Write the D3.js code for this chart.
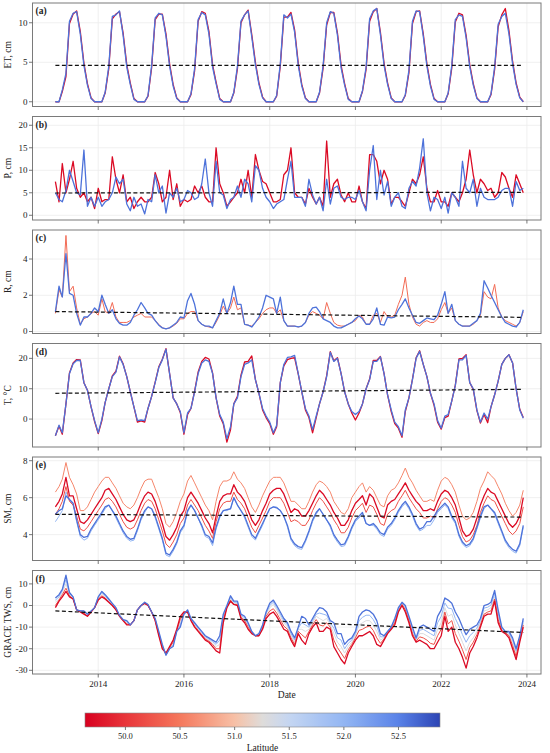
<!DOCTYPE html>
<html>
<head>
<meta charset="utf-8">
<script src="https://cdnjs.cloudflare.com/ajax/libs/d3/7.8.5/d3.min.js"></script>
<style>
  body { margin: 0; background: #fff; }
  svg { display: block; }
  text { font-family: "Liberation Serif", "DejaVu Serif", serif; fill: #222; }
</style>
</head>
<body>
<svg id="chart" width="550" height="753"></svg>
<script>
// monthly series, Jan 2013 .. Dec 2023
const months = d3.range(132).map(i => new Date(Date.UTC(2013, i, 1)));

// latitudes of the drawn grid rows
const latRed = 49.7, latPink = 50.2, latSalmon = 50.6, latMid = 51.3, latLight = 52.0, latBlue = 52.6;

// (a) evapotranspiration, cm
const etRed = [
  0,0,1.3,3.2,9.9,11.1,11.5,8.9,4.9,2.3,0.5,0,
  0,0,1.1,4.2,10.5,11.1,11.4,8.7,4.7,2.4,0.4,0,
  0,0,0.7,4.3,10.4,11.1,11.1,8.6,4.8,2.2,0.5,0,
  0,0,0.9,3.9,10.2,11.4,11.2,8.9,4.7,2.5,0.4,0,
  0,0,1.1,4.2,10.0,11.0,11.6,8.5,5.0,2.4,0.6,0,
  0,0,0.7,4.5,10.7,10.7,11.3,9.1,4.9,2.2,0.5,0,
  0,0,1.1,4.3,9.7,11.3,11.3,8.7,4.6,2.3,0.4,0,
  0,0,1.3,4.1,10.2,11.4,11.8,8.8,4.9,2.4,0.5,0,
  0,0,0.8,3.7,9.9,11.4,11.5,8.6,4.8,2.2,0.4,0,
  0,0,1.0,4.3,10.1,11.2,11.0,8.4,4.7,2.3,0.5,0,
  0,0,0.9,4.1,9.5,11.0,11.8,9.0,5.1,2.4,0.6,0
];
const etBlue = [
  0,0,1.5,3.6,10.2,11.2,11.4,8.6,4.6,2.1,0.4,0,
  0,0,1.2,4.5,10.8,11.0,11.5,8.4,4.4,2.2,0.3,0,
  0,0,0.8,4.6,10.6,11.2,11.0,8.3,4.5,2.0,0.4,0,
  0,0,1.0,4.2,10.4,11.3,11.0,8.6,4.4,2.3,0.3,0,
  0,0,1.2,4.5,10.2,11.0,11.5,8.2,4.7,2.2,0.5,0,
  0,0,0.8,4.8,11.0,10.6,11.1,8.8,4.6,2.0,0.4,0,
  0,0,1.2,4.6,10.0,11.4,11.2,8.4,4.3,2.1,0.3,0,
  0,0,1.4,4.4,10.5,11.5,11.8,8.5,4.6,2.2,0.4,0,
  0,0,0.9,4.0,10.2,11.5,11.4,8.3,4.5,2.0,0.3,0,
  0,0,1.1,4.6,10.4,11.0,10.8,8.1,4.4,2.1,0.4,0,
  0,0,1.0,4.4,9.8,10.8,11.2,8.6,4.8,2.2,0.5,0
];

// (b) precipitation, cm
const pRed = [
  7.5,3,11.5,5,8,12,6,4,5,3,4,1.5,
  6,3,3.5,3.5,13,8,5,9,3,4,1.5,3,
  4,3,3,4,9.5,7,3,4,10,3.5,7,2,
  3.5,3,3.5,6.5,5,6.5,4,3,3,15,7,5,
  2,3,4,5,8,5,10,4,13.5,10,7.5,7,
  5,3,3,3.5,9,10,15,5,4,4,2.5,6,
  4,2.5,4,2,16.5,4,7,8,4.5,3,5,3,
  3,6.5,3,1.5,13.5,13.5,12,7,10,8,2.5,4,
  4,3,2,5,8,7,9,13,6,3,3,5.5,
  3,3,2,5,4,3,5,8,14.5,9,5,8,
  7,5.5,6,4,5,9.5,8.5,6,4,9,7,5
];
const pBlue = [
  5,3.5,3,5.5,10,7.5,5,4.5,14.5,2,4,2,
  4,2,3,3.5,5,8.5,7,8,2.5,1,4,2,
  2.5,0.3,3.5,3,9,5,6.5,0.5,5,4,6,3,
  3.5,5.5,5,3.5,4,7,12.5,5,2,12,5,4.5,
  1.5,3.5,4,6.5,4,8,7,3,11,10,6,4,
  3,1.5,2.5,3,3.5,8,12,4,4,4,2,8,
  4.5,2.5,4,1,8,2.5,6,6.5,4,3.5,4,4,
  3.5,5.5,3,1,10,15.5,3.5,10,4.5,7.5,2,4,
  5,2,1.5,6,7.5,6.5,10.5,17,5,1,4,3.5,
  1.5,4,0.5,5,4,2,12,6,5,8,2,6,
  4,3.5,3.5,3.5,4,5.5,6,6,2,7.5,5.5,6
];

// (c) runoff, cm
const rRed = [
  1.0,2.3,1.9,5.3,2.2,2.5,1.3,0.4,0.7,0.8,1.0,1.1,
  0.9,1.8,1.1,1.0,1.6,0.8,0.5,0.5,0.5,0.6,0.8,0.9,
  1.0,0.8,0.8,0.8,0.6,0.4,0.2,0.15,0.2,0.3,0.45,0.7,
  0.7,1.0,1.1,1.1,0.6,0.4,0.3,0.25,0.2,0.5,0.9,1.4,
  1.0,1.3,1.9,1.2,1.3,0.4,0.35,0.3,0.5,0.7,1.0,1.2,
  1.3,1.3,1.0,1.2,0.6,0.3,0.3,0.3,0.25,0.3,0.5,0.9,
  1.1,1.0,0.9,0.7,1.6,1.0,0.5,0.35,0.3,0.3,0.4,0.5,
  0.6,0.9,0.8,0.4,0.4,0.9,1.0,0.5,1.1,0.8,0.8,0.9,
  1.5,2.0,3.0,1.5,0.8,0.4,0.3,0.5,0.6,0.5,0.5,0.7,
  1.2,1.6,1.0,1.3,0.6,0.4,0.3,0.3,0.3,0.4,0.6,0.9,
  2.2,1.9,1.8,2.6,1.3,0.8,0.6,0.5,0.4,0.3,0.5,1.1
];
const rBlue = [
  1.1,2.5,1.9,4.3,2.1,2.0,1.0,0.35,0.8,0.8,1.0,1.3,
  1.1,2.0,1.5,1.0,1.2,0.7,0.45,0.35,0.35,0.5,0.9,1.2,
  1.6,1.3,1.0,0.9,0.6,0.35,0.2,0.15,0.2,0.35,0.5,0.8,
  0.75,1.7,2.1,1.5,0.6,0.4,0.3,0.3,0.2,0.6,1.0,1.8,
  1.0,1.6,2.5,1.5,1.5,0.4,0.35,0.25,0.5,0.8,1.3,2.0,
  1.9,1.8,1.0,1.9,0.6,0.3,0.3,0.3,0.25,0.3,0.5,1.0,
  1.3,1.35,1.1,0.7,0.6,0.5,0.3,0.2,0.2,0.3,0.4,0.5,
  0.7,0.85,0.7,0.4,0.4,0.7,1.3,0.4,0.35,0.8,0.75,0.8,
  1.2,1.5,1.8,1.3,0.9,0.5,0.45,0.6,0.75,0.7,0.65,0.9,
  1.5,2.2,1.0,1.5,0.6,0.4,0.3,0.3,0.3,0.45,0.6,1.0,
  2.8,2.4,2.0,1.6,1.2,0.8,0.5,0.4,0.3,0.25,0.5,1.2
];

// (d) air temperature, °C
const tRed = [
  -5.5,-2.3,-5,5,15.2,18.5,19.6,19.5,12,9.5,4,-0.8,
  -4.8,-0.5,5.5,10,14.2,15.8,20.7,18.2,14,9,4,-1,
  -0.6,-1,3.5,7.5,12.2,17.2,19.7,23.2,15,7,5,2.2,
  -5,1.5,3.5,9.2,15.5,19,20.3,19.8,15.2,7,1,-1.5,
  -7.6,-3.5,5,7.5,14.5,18.8,19,20.8,13,8.5,3,0.5,
  -1.5,-5,-2.5,12,17.5,19.6,20,20.2,14.8,9,3,0.5,
  -4.5,0.5,5,9,14.3,22.2,19.2,20.2,15,9,5,2,
  -0.3,2,5,10,13.2,19.3,19.3,20.6,15,8,2.5,-1.5,
  -3,-6,2.5,7,13.2,20.2,22.5,18,14,8.5,4.5,-1,
  -3.3,0.5,1,6,11.2,19.8,20,21.2,12,9.8,2.8,-1.3,
  1.5,-1.2,4,8,12.5,18,20,21.2,18.5,10,3.2,0.5
];
const tBlue = [
  -5.5,-2,-4.5,5,15,18.2,19.3,19.3,12,9.5,4,-0.5,
  -4.5,0,5.5,10,14,15.5,20.5,18,14,9,4,-0.5,
  -0.3,-0.5,3.5,7.5,12,17,19.5,23,15,7,5,2.5,
  -4.5,2,3.5,9,15,18.5,19.5,19,15,7,1.5,-1,
  -6.5,-2.5,5,7,14,18,18.5,19.5,13,8.5,3.5,1,
  -1,-4.5,-2,12,18,20.3,20.5,21,15,9,3.5,1,
  -3.5,1,5,9,14,22,19,20,15,9,5,2.5,
  1.5,2.5,5,10,13,19,19,20.5,15,8,3,-1,
  -2.5,-5.5,3,7,13,20,22.3,18,14,8.5,5,-0.5,
  -3,1,1.5,6,11,19.5,19.5,21,12,10,3,-1,
  2,0,4,8,12.5,18,20,21.2,18.5,10,3,0.3
];

// (e) soil moisture, cm
const smRed = [
  5.5,5.8,6.2,7.1,6.1,6.1,5.4,4.7,4.6,4.8,5.1,5.4,
  5.7,6.0,6.4,6.5,6.2,5.9,5.5,5.1,4.8,4.7,4.8,5.2,
  5.7,6.1,6.3,6.2,5.8,5.2,4.6,3.9,3.7,4.0,4.4,5.0,
  5.3,6.0,6.3,6.0,5.7,5.3,4.9,4.6,4.1,5.0,5.8,6.1,
  6.2,6.2,6.7,6.3,6.1,5.8,5.3,4.8,4.5,4.8,5.3,5.7,
  6.2,6.4,6.5,6.5,6.2,5.7,5.2,5.4,5.3,5.0,5.0,5.3,
  5.7,6.1,6.4,6.2,5.9,5.6,5.2,4.9,4.5,4.5,4.8,5.3,
  5.7,5.9,6.1,5.6,6.2,6.0,5.5,5.0,4.9,5.6,5.8,5.9,
  6.2,6.5,6.8,6.4,6.1,5.8,5.6,5.3,5.3,5.4,5.3,5.8,
  6.2,6.4,6.3,6.0,5.6,4.9,4.2,3.9,4.0,4.3,4.9,5.6,
  6.1,6.5,6.3,6.2,5.8,5.4,5.0,4.6,4.4,4.6,5.0,6.0
];
const smPink = [
  5.1,5.4,5.8,6.6,5.8,5.6,5.0,4.3,4.2,4.4,4.7,5.0,
  5.3,5.6,5.9,6.0,5.8,5.5,5.1,4.7,4.4,4.3,4.4,4.8,
  5.3,5.7,5.9,5.8,5.4,4.8,4.2,3.5,3.3,3.6,4.0,4.6,
  4.9,5.6,5.9,5.6,5.3,4.9,4.5,4.2,3.8,4.7,5.4,5.7,
  5.8,5.8,6.3,5.9,5.7,5.4,4.9,4.4,4.1,4.5,4.9,5.3,
  5.8,6.0,6.0,6.0,5.7,5.2,4.7,4.8,4.7,4.5,4.5,4.8,
  5.3,5.7,6.0,5.8,5.5,5.2,4.8,4.5,4.1,4.1,4.4,4.9,
  5.3,5.5,5.7,5.2,5.6,5.5,5.1,4.6,4.5,5.1,5.3,5.4,
  5.8,6.1,6.4,6.0,5.7,5.4,5.2,4.9,4.9,5.0,4.9,5.4,
  5.8,6.0,5.9,5.6,5.2,4.5,3.9,3.6,3.7,4.0,4.5,5.2,
  5.7,6.1,5.9,5.8,5.4,5.0,4.6,4.2,4.0,4.2,4.6,5.5
];
const smSalmon = [
  6.3,6.6,7.0,7.9,7.1,6.7,6.2,5.3,5.3,5.5,5.9,6.3,
  6.6,6.9,7.1,7.1,6.8,6.5,6.1,5.7,5.5,5.4,5.6,6.0,
  6.5,6.9,7.0,7.0,6.5,6.0,5.4,4.6,4.4,4.7,5.2,5.8,
  6.2,6.9,7.2,6.8,6.4,6.0,5.6,5.3,4.8,5.8,6.6,6.9,
  6.9,7.0,7.4,7.0,6.8,6.5,6.0,5.5,5.2,5.6,6.1,6.5,
  6.9,7.1,7.1,7.1,6.8,6.3,5.8,5.8,5.6,5.4,5.4,5.8,
  6.3,6.7,6.9,6.8,6.6,6.3,5.8,5.5,5.2,5.1,5.4,6.0,
  6.3,6.6,6.8,6.3,6.6,6.4,6.0,5.6,5.5,6.1,6.4,6.5,
  6.8,7.2,7.6,7.1,6.8,6.4,6.1,5.8,5.8,5.9,5.8,6.4,
  6.9,7.1,7.0,6.7,6.3,5.6,5.0,4.8,4.9,5.2,5.8,6.5,
  6.9,7.4,7.2,7.0,6.6,6.2,5.7,5.3,5.0,5.2,5.6,6.4
];
const smLight = [
  4.7,5.0,5.3,6.3,5.9,5.6,4.7,3.9,3.7,3.8,4.2,4.5,
  4.8,5.1,5.4,5.6,5.3,4.9,4.5,4.1,3.8,3.65,3.7,4.2,
  4.8,5.2,5.5,5.4,4.9,4.3,3.7,2.9,2.8,3.1,3.5,4.1,
  4.4,5.2,5.6,5.3,4.9,4.4,3.9,3.8,3.4,4.3,4.9,5.3,
  5.3,5.4,6.0,5.6,5.3,4.9,4.4,3.9,3.7,4.1,4.5,5.0,
  5.4,5.5,5.5,5.3,5.0,4.4,3.7,3.4,3.25,3.2,3.6,4.1,
  4.7,5.1,5.4,5.1,4.8,4.4,3.9,3.6,3.35,3.4,3.8,4.3,
  4.7,4.9,5.1,4.6,4.5,4.5,4.3,4.0,3.9,4.3,4.5,4.8,
  5.2,5.5,5.7,5.4,5.0,4.5,4.2,4.3,4.5,4.5,4.8,5.2,
  5.4,5.6,5.4,4.9,4.6,3.9,3.5,3.3,3.4,3.7,4.3,4.9,
  5.4,5.6,5.4,5.1,4.6,4.1,3.6,3.3,3.1,3.0,3.4,4.4
];
const smBlue = [
  5.1,5.3,5.4,6.1,5.9,5.7,4.8,4.0,3.85,3.9,4.3,4.6,
  4.9,5.2,5.5,5.6,5.3,5.0,4.6,4.2,3.9,3.75,3.8,4.3,
  4.9,5.3,5.5,5.4,5.0,4.4,3.8,3.0,2.9,3.2,3.6,4.2,
  4.5,5.3,5.6,5.3,4.9,4.5,4.0,3.9,3.55,4.4,5.0,5.3,
  5.35,5.4,6.0,5.6,5.3,5.0,4.5,4.0,3.8,4.2,4.6,5.0,
  5.4,5.5,5.45,5.3,5.0,4.5,3.8,3.5,3.35,3.3,3.7,4.2,
  4.8,5.2,5.4,5.1,4.8,4.5,4.0,3.7,3.45,3.5,3.9,4.4,
  4.8,5.0,5.2,4.6,4.5,4.6,4.4,4.1,4.0,4.4,4.6,4.9,
  5.3,5.6,5.8,5.5,5.1,4.6,4.3,4.4,4.7,4.7,5.0,5.3,
  5.5,5.7,5.5,5.0,4.7,4.0,3.6,3.4,3.5,3.8,4.4,5.0,
  5.5,5.6,5.4,5.2,4.7,4.2,3.7,3.4,3.2,3.1,3.5,4.5
];

// (f) GRACE terrestrial water storage anomaly, cm
const twsRed = [
  -1,2,4,6.5,4,3,-2,-3,-4,-5,-3,-1,
  2.5,4,3,1.5,0,-2,-5,-7,-9,-9,-7,-2,
  0,1,0,-3,-7,-14,-20,-22,-19,-16,-11,-5,
  -3,-3,-7,-10,-12,-14,-16,-17,-19,-21,-22,-8,
  -1,2,0.5,0,-6,-8,-11,-13,-14,-14,-11,-6,
  -4,-3,-5,-8,-11,-12,-16,-19,-13,-16,-18,-13,
  -10,-8,-12,-12,-10,-11,-19,-22,-25,-27,-22,-19,
  -16,-14,-14,-13,-12,-14,-18,-19,-16,-13,-11,-9,
  -3,0,-3,-8,-14,-17,-16,-17,-18,-20,-20,-17,
  -14,-5,-12,-10,-17,-20,-24,-29,-22,-19,-15,-10,
  -5,-4,-4,2,-8,-12,-13,-15,-20,-25,-17,-10
];
const twsPink = [
  0,2.5,5,8,4.5,3,-2,-3,-3.5,-5,-3,-1,
  3,4.5,3.5,1.5,0,-2,-5,-7,-8.5,-9,-7,-2,
  0,1,0,-3,-7,-13.5,-19.5,-22.5,-19.5,-17,-11.5,-6.5,
  -3.5,-3,-7,-9.5,-11.5,-13.5,-15.5,-16.5,-18,-20,-20,-7,
  -1,2.5,0.5,0.5,-5.5,-7,-10,-12.5,-14,-14,-10.5,-5,
  -2.5,-1.5,-3.5,-6.5,-9.5,-11,-15,-18,-12,-13.5,-15,-12,
  -9,-6.5,-9,-9.5,-8,-10,-16,-19.5,-22,-24.5,-20.5,-18,
  -15,-11.5,-11,-10,-9.5,-11.5,-15,-17.5,-15.5,-12.5,-10.5,-8,
  -2.5,0.5,-2,-7,-13,-16.5,-14.5,-15,-16,-17.5,-18,-14,
  -11,-3,-8.5,-7,-13,-16.5,-20.5,-25,-19.5,-17,-13.5,-9,
  -4,-3,-2.5,3,-6.5,-11.5,-12.5,-14,-18.5,-23.5,-16,-9
];
const twsMid = [
  1.5,3,6,10,5,3.5,-2,-2.5,-3,-4.5,-3,-1,
  3.5,5.5,4,2,0.5,-1.5,-5,-7,-8,-9,-7,-2,
  0,1.5,0.5,-3,-6.5,-13,-19,-23,-20,-18,-12,-8,
  -4,-3,-6.5,-9,-11,-13,-15,-16,-17.5,-19,-18,-6,
  -0.5,3,1,1,-5,-6.5,-9.5,-12.5,-14,-13.5,-10,-4,
  -1,0.5,-2,-5,-8,-10,-14,-17,-11,-11,-12,-11,
  -8,-5,-6,-7,-6,-9,-13,-17,-19,-22,-19,-17,
  -14,-9,-8,-7,-7,-9,-12,-16,-15,-12,-10,-7,
  -2,1,-1.5,-6.5,-12,-16,-13,-13,-14,-15,-16,-11,
  -8,-1,-5,-4,-9,-13,-17,-21,-17,-15,-12,-8,
  -2.5,-2,-1,4,-5,-11,-12.5,-13.5,-17,-22,-15.5,-8
];
const twsLight = [
  2.5,4,7,12,5.5,4,-2,-2.5,-2.5,-4,-2.5,-1,
  4,6,4.5,2.5,0.8,-1.2,-4.7,-6.7,-7.5,-9,-7,-2,
  0,1.5,0.5,-3,-6.2,-12.5,-18.5,-23,-20,-18.5,-12,-9,
  -4,-2.5,-6.2,-8.5,-10.5,-12.5,-14.5,-15.5,-16.7,-18,-16,-5,
  -0.2,3.8,1.5,1.5,-4.5,-5.7,-8.7,-12.2,-14,-13.2,-9.5,-3.5,
  0,1.5,-1,-4,-7,-9,-13,-16,-10.5,-8,-9,-10,
  -7,-4,-3.5,-4,-4.5,-8,-10.5,-15,-16,-20,-17.5,-16,
  -13,-7,-5.5,-4.5,-4.5,-6.5,-9.5,-14.5,-14.5,-12,-10,-6.5,
  -1.5,1.2,-0.7,-5.7,-11,-15.5,-11.5,-11,-12,-13,-14,-8,
  -5,1.2,-1.2,-1.5,-6,-9.5,-13.5,-17,-14,-12.5,-10.5,-7,
  -1.2,-0.8,0.2,5.5,-3.5,-10.5,-12.2,-12.7,-16,-21,-14.8,-7
];
const twsBlue = [
  3.5,5,7.5,14,6,4,-2,-2.5,-2.5,-4,-2.5,-1,
  4,6.5,5,3,1,-1,-4.5,-6.5,-7,-9,-7,-2,
  0,1.5,0.5,-3,-6,-12,-18,-23,-20,-19,-12,-10,
  -4,-2,-6,-8,-10,-12,-14,-15,-16,-17,-14,-4,
  0,4.5,2,2,-4,-5,-8,-12,-14,-13,-9,-3,
  1,2.5,0,-3,-6,-8,-12,-15,-10,-5,-6,-9,
  -6,-3,-1,-1.5,-3,-7,-8,-13,-13,-18,-16,-15,
  -12,-5,-3,-2,-2.5,-4,-7,-13,-14,-12,-10,-6,
  -1,1.5,0,-5,-10,-15,-10,-9,-10,-11,-12,-5,
  -2,3.5,2.5,1,-3,-6,-10,-13.5,-11,-10,-9,-6,
  0,0.5,1.5,7,-2,-10,-12,-12,-15,-20,-14,-6
];

// panel texts, axes and linear trends (start / end value)
const panelLabels = ['(a)', '(b)', '(c)', '(d)', '(e)', '(f)'];
const yTitles = ['ET, cm', 'P, cm', 'R, cm', 'T, °C', 'SM, cm', 'GRACE TWS, cm'];
const yDomains = [[-0.6, 12.5], [-1.05, 21.95], [-0.11, 5.6], [-9.2, 24.9], [2.6, 8.2], [-31.7, 16.2]];
const yTicks = [[0, 5, 10], [0, 5, 10, 15, 20], [0, 2, 4], [0, 10, 20], [4, 6, 8], [-30, -20, -10, 0, 10]];
const trendStart = [4.6, 4.95, 1.1, 8.5, 5.1, -2.5];
const trendEnd = [4.6, 5.1, 0.78, 9.8, 4.95, -12.5];

const panelSeries = [
  [{ lat: latRed, v: etRed }, { lat: latBlue, v: etBlue }],
  [{ lat: latRed, v: pRed }, { lat: latBlue, v: pBlue }],
  [{ lat: 50.4, v: rRed }, { lat: latBlue, v: rBlue }],
  [{ lat: latRed, v: tRed }, { lat: latBlue, v: tBlue }],
  [{ lat: latSalmon, v: smSalmon }, { lat: latRed, v: smRed }, { lat: latPink, v: smPink },
   { lat: latLight, v: smLight }, { lat: latBlue, v: smBlue }],
  [{ lat: latRed, v: twsRed }, { lat: latPink, v: twsPink }, { lat: latMid, v: twsMid },
   { lat: latLight, v: twsLight }, { lat: latBlue, v: twsBlue }]
];

// colour bar
const latStops = [49.63, 50.0, 50.5, 51.0, 51.25, 51.5, 52.0, 52.5, 52.88];
const stopColors = ['#d8001f', '#e8353a', '#f5785c', '#f7c0a6', '#dfdcd9', '#c5d6f2', '#93b6f3', '#5982e8', '#2c44b4'];
const cbTicks = [50.0, 50.5, 51.0, 51.5, 52.0, 52.5];

const color = d3.scaleLinear().domain(latStops).range(stopColors).interpolate(d3.interpolateRgb).clamp(true);

const svg = d3.select('#chart');
const left = 32.5, right = 541;
const panelTop0 = 3, panelStep = 113.5, panelH = 103.5;

const x = d3.scaleUtc()
  .domain([new Date(Date.UTC(2012, 5, 20)), new Date(Date.UTC(2024, 3, 30))])
  .range([left, right]);
const xTicks = x.ticks(d3.utcYear.every(2));

panelSeries.forEach((series, k) => {
  const top = panelTop0 + k * panelStep;
  const y = d3.scaleLinear().domain(yDomains[k]).range([top + panelH, top]);
  const g = svg.append('g');

  g.append('clipPath').attr('id', 'clip' + k)
    .append('rect').attr('x', left).attr('y', top).attr('width', right - left).attr('height', panelH);

  // light grid
  g.selectAll('.vg').data(xTicks).enter().append('line')
    .attr('x1', d => x(d)).attr('x2', d => x(d))
    .attr('y1', top).attr('y2', top + panelH)
    .attr('stroke', '#ececec').attr('stroke-width', 0.8);
  g.selectAll('.hg').data(yTicks[k]).enter().append('line')
    .attr('x1', left).attr('x2', right)
    .attr('y1', d => y(d)).attr('y2', d => y(d))
    .attr('stroke', '#ececec').attr('stroke-width', 0.8);

  const line = d3.line()
    .x((d, i) => x(months[i]))
    .y(d => y(d));

  // lighter latitudes first, the two extremes on top, blue last
  const rank = s => (s.lat === latBlue ? 3 : s.lat <= latRed ? 2 : Math.abs(s.lat - 51.25) < 0.8 ? 0 : 1);
  const plot = g.append('g').attr('clip-path', 'url(#clip' + k + ')');
  series.slice().sort((a, b) => rank(a) - rank(b)).forEach(s => {
    plot.append('path')
      .attr('d', line(s.v))
      .attr('fill', 'none')
      .attr('stroke', color(s.lat))
      .attr('stroke-width', s.lat === latBlue || s.lat === latRed ? 1.3 : 1)
      .attr('stroke-linejoin', 'round');
  });

  // trend
  plot.append('line')
    .attr('x1', x(months[0])).attr('x2', x(months[months.length - 1]))
    .attr('y1', y(trendStart[k])).attr('y2', y(trendEnd[k]))
    .attr('stroke', '#111').attr('stroke-width', 1.2)
    .attr('stroke-dasharray', '4,2.5');

  // frame
  g.append('rect')
    .attr('x', left).attr('y', top).attr('width', right - left).attr('height', panelH)
    .attr('fill', 'none').attr('stroke', '#7a7a7a').attr('stroke-width', 1);

  // x ticks
  g.selectAll('.xt').data(xTicks).enter().append('line')
    .attr('x1', d => x(d)).attr('x2', d => x(d))
    .attr('y1', top + panelH).attr('y2', top + panelH + 3.5)
    .attr('stroke', '#555').attr('stroke-width', 0.8);

  // y ticks + labels
  g.selectAll('.yt').data(yTicks[k]).enter().append('line')
    .attr('x1', left - 3.5).attr('x2', left)
    .attr('y1', d => y(d)).attr('y2', d => y(d))
    .attr('stroke', '#555').attr('stroke-width', 0.8);
  g.selectAll('.yl').data(yTicks[k]).enter().append('text')
    .attr('x', left - 5).attr('y', d => y(d)).attr('dy', '0.33em')
    .attr('text-anchor', 'end').attr('font-size', 9)
    .text(d => d);

  g.append('text')
    .attr('transform', `translate(11,${top + panelH / 2}) rotate(-90)`)
    .attr('text-anchor', 'middle').attr('font-size', 9.5)
    .text(yTitles[k]);

  g.append('text')
    .attr('x', left + 3).attr('y', top + 11)
    .attr('font-size', 9.5).attr('font-weight', 'bold')
    .text(panelLabels[k]);

  if (k === panelSeries.length - 1) {
    g.selectAll('.xl').data(xTicks).enter().append('text')
      .attr('x', d => x(d)).attr('y', top + panelH + 13)
      .attr('text-anchor', 'middle').attr('font-size', 9)
      .text(d => d3.utcFormat('%Y')(d));
    g.append('text')
      .attr('x', (left + right) / 2).attr('y', top + panelH + 24)
      .attr('text-anchor', 'middle').attr('font-size', 9.5)
      .text('Date');
  }
});

// colour bar
const cb = d3.scaleLinear().domain([latStops[0], latStops[latStops.length - 1]]).range([85, 440]);
const grad = svg.append('defs').append('linearGradient').attr('id', 'cbgrad');
d3.range(0, 1.0001, 0.02).forEach(t => {
  grad.append('stop')
    .attr('offset', t)
    .attr('stop-color', color(cb.invert(85 + t * 355)));
});
svg.append('rect')
  .attr('x', 85).attr('y', 713).attr('width', 355).attr('height', 14)
  .attr('fill', 'url(#cbgrad)').attr('stroke', '#888').attr('stroke-width', 0.6);
svg.selectAll('.cbt').data(cbTicks).enter().append('line')
  .attr('x1', d => cb(d)).attr('x2', d => cb(d))
  .attr('y1', 727).attr('y2', 730)
  .attr('stroke', '#555').attr('stroke-width', 0.8);
svg.selectAll('.cbl').data(cbTicks).enter().append('text')
  .attr('x', d => cb(d)).attr('y', 739)
  .attr('text-anchor', 'middle').attr('font-size', 8.5)
  .text(d => d.toFixed(1));
svg.append('text')
  .attr('x', 262.5).attr('y', 751)
  .attr('text-anchor', 'middle').attr('font-size', 9.5)
  .text('Latitude');
</script>
</body>
</html>
